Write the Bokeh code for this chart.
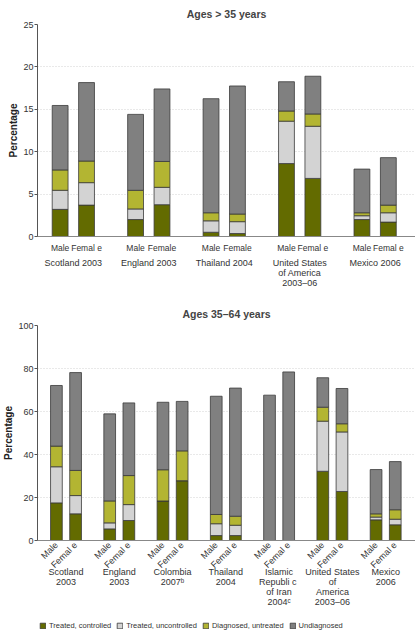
from bokeh.plotting import figure
from bokeh.models import ColumnDataSource, FixedTicker, LinearAxis, Range1d, Legend, LegendItem
from bokeh.layouts import column
from bokeh.embed import file_html
from bokeh.resources import INLINE

FONT = "'Liberation Sans', Arial, sans-serif"

segments = ["Treated, controlled", "Treated, uncontrolled", "Diagnosed, untreated", "Undiagnosed"]
seg_keys = ["ctrl", "unctrl", "diag", "undiag"]
colors = ["#636b00", "#d3d3d3", "#b3b532", "#808080"]

# ---------------- Top chart: Ages > 35 years ----------------
top_title = "Ages > 35 years"
top_groups = ["Scotland 2003", "England 2003", "Thailand 2004",
              "United States\nof America\n2003\u201306", "Mexico 2006"]
top_sex = ["Male", "Femal e", "Male", "Female", "Male", "Female",
           "Male", "Femal e", "Male", "Femal e"]
top_ctrl = [3.2, 3.7, 2.0, 3.75, 0.5, 0.35, 8.6, 6.85, 2.0, 1.7]
top_unctrl = [2.25, 2.65, 1.25, 2.05, 1.35, 1.4, 5.0, 6.15, 0.45, 1.1]
top_diag = [2.4, 2.55, 2.2, 3.05, 0.95, 0.9, 1.2, 1.45, 0.35, 0.9]
top_undiag = [7.6, 9.25, 8.95, 8.55, 13.45, 15.1, 3.45, 4.45, 5.15, 5.6]
top_yticks = [0, 5, 10, 15, 20, 25]

# ---------------- Bottom chart: Ages 35-64 years ----------------
bot_title = "Ages 35\u201364 years"
bot_groups = ["Scotland\n2003", "England\n2003", "Colombia\n2007\u1d47", "Thailand\n2004",
              "Islamic\nRepubli  c\nof Iran\n2004\u1d9c", "United States\nof\nAmerica\n2003\u201306",
              "Mexico\n2006"]
bot_sex = ["Male", "Femal e"] * 7
bot_ctrl = [17.5, 12.4, 5.4, 9.3, 18.4, 27.8, 2.3, 2.3, 0, 0, 32.2, 22.8, 9.6, 7.3]
bot_unctrl = [16.8, 8.5, 2.8, 7.4, 0, 0, 5.5, 4.8, 0, 0, 23.3, 27.7, 1.3, 2.6]
bot_diag = [9.6, 11.7, 10.2, 13.5, 14.5, 13.9, 4.3, 4.2, 0, 0, 6.5, 3.8, 1.5, 4.4]
bot_undiag = [28.2, 45.5, 40.5, 33.8, 31.4, 23.0, 55.0, 59.6, 67.6, 78.4, 13.7, 16.4, 20.6, 22.4]
bot_yticks = [0, 20, 40, 60, 80, 100]

GROUP_STEP = 200
W = 415


def make_chart(title, groups, sex, ctrl, unctrl, diag, undiag, yticks,
               sex_off, bar_w, xr, rotate, height, top_border, bottom_border, title_standoff,
               sex_fs, sex_standoff, grp_standoff):
    n = len(groups)
    xs = []
    for g in range(n):
        xs.append(g * GROUP_STEP - sex_off)
        xs.append(g * GROUP_STEP + sex_off)
    src = ColumnDataSource(dict(x=xs, ctrl=ctrl, unctrl=unctrl, diag=diag, undiag=undiag))
    p = figure(width=W, height=height, output_backend="svg",
               toolbar_location=None, x_range=Range1d(*xr),
               y_range=Range1d(yticks[0], yticks[-1]),
               min_border=0, min_border_left=33, min_border_top=top_border,
               min_border_bottom=bottom_border, x_axis_location=None)
    p.title.text = title
    p.title.align = "center"
    p.title.text_font = FONT
    p.title.text_font_size = "10.5px"
    p.title.text_font_style = "bold"
    p.title.standoff = title_standoff
    p.title.offset = 0
    rs = p.vbar_stack(seg_keys, x="x", width=bar_w, source=src, fill_color=colors,
                      line_color="#3a3a3a", line_width=0.8)
    p.outline_line_color = None
    p.xgrid.visible = False
    p.ygrid.grid_line_color = "#c8c8c8"
    p.ygrid.grid_line_dash = "1 2"
    p.ygrid.grid_line_width = 0.8
    ya = p.yaxis[0]
    ya.ticker = FixedTicker(ticks=yticks)
    ya.minor_tick_line_color = None
    ya.major_tick_out = 3
    ya.major_tick_in = 0
    ya.axis_line_color = "#555555"
    ya.major_tick_line_color = "#555555"
    ya.major_label_text_font = FONT
    ya.major_label_text_font_size = "9px"
    ya.major_label_text_color = "#333333"
    ya.major_label_standoff = 1
    ya.axis_label = "Percentage"
    ya.axis_label_text_font = FONT
    ya.axis_label_text_font_size = "10px"
    ya.axis_label_text_font_style = "bold"
    ya.axis_label_text_color = "#222222"
    ya.axis_label_standoff = 1

    sex_axis = LinearAxis(ticker=FixedTicker(ticks=xs),
                          major_label_overrides={x: s for x, s in zip(xs, sex)})
    sex_axis.major_tick_line_color = None
    sex_axis.minor_tick_line_color = None
    sex_axis.major_tick_out = 0
    sex_axis.axis_line_color = "#888888"
    sex_axis.major_label_text_font = FONT
    sex_axis.major_label_text_font_size = sex_fs
    sex_axis.major_label_text_color = "#333333"
    sex_axis.major_label_standoff = sex_standoff
    if rotate:
        sex_axis.major_label_orientation = 0.785
    p.add_layout(sex_axis, "below")

    centers = [g * GROUP_STEP for g in range(n)]
    grp_axis = LinearAxis(ticker=FixedTicker(ticks=centers),
                          major_label_overrides={c: s for c, s in zip(centers, groups)})
    grp_axis.major_tick_line_color = None
    grp_axis.minor_tick_line_color = None
    grp_axis.major_tick_out = 0
    grp_axis.axis_line_color = None
    grp_axis.major_label_text_font = FONT
    grp_axis.major_label_text_font_size = "9px"
    grp_axis.major_label_text_color = "#333333"
    grp_axis.major_label_text_line_height = 1.0
    grp_axis.major_label_standoff = grp_standoff
    p.add_layout(grp_axis, "below")
    return p, rs


p1, _ = make_chart(top_title, top_groups, top_sex, top_ctrl, top_unctrl, top_diag, top_undiag,
                   top_yticks, 35, 42, (-95, 907), False, 290, 23, 52, 10, "8.5px", 6, 2)
p2, rs2 = make_chart(bot_title, bot_groups, bot_sex, bot_ctrl, bot_unctrl, bot_diag, bot_undiag,
                     bot_yticks, 36, 44, (-107, 1312), True, 328, 35, 78, 11, "9px", 3, -10)

# ---------------- Legend strip ----------------
p3 = figure(width=W, height=14, output_backend="svg", toolbar_location=None,
            x_range=Range1d(0, 1), y_range=Range1d(0, 1), min_border=0,
            x_axis_location=None, y_axis_location=None)
p3.outline_line_color = None
p3.xgrid.visible = False
p3.ygrid.visible = False
legend_rs = [p3.vbar(x=[5], top=[1], width=1, fill_color=c, line_color="#3a3a3a", line_width=0.8)
             for c in colors]
legend = Legend(items=[LegendItem(label=s, renderers=[r]) for s, r in zip(segments, legend_rs)],
                orientation="horizontal", location=(2, 2),
                label_text_font=FONT, label_text_font_size="7.5px", label_text_color="#333333",
                glyph_width=7, glyph_height=7, label_height=8, label_standoff=3,
                spacing=5, padding=0, margin=0, border_line_color=None,
                background_fill_alpha=0)
p3.add_layout(legend, "center")

layout = column(p1, p2, p3, spacing=0)
open("out.html", "w").write(file_html(layout, INLINE))
